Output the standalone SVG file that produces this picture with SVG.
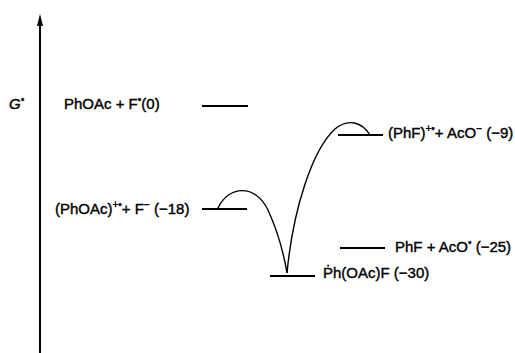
<svg xmlns="http://www.w3.org/2000/svg" width="515" height="353" viewBox="0 0 515 353">
<style>
text{font-family:"Liberation Sans",Arial,sans-serif;font-size:15px;fill:#000;stroke:#000;stroke-width:0.4;}
.sup{font-size:10px;}
.lvl{stroke:#000;stroke-width:2;fill:none;}
.curve{stroke:#000;stroke-width:1.4;fill:none;}
</style>
<g id="axis">
<line x1="40" y1="353" x2="40" y2="18" stroke="#000" stroke-width="2"/>
<path d="M40,14 L43,26 L37,26 Z" fill="#000"/>
<text x="9" y="109" font-style="italic">G<tspan class="sup" dy="-6">•</tspan></text>
</g>
<g id="n-phoac">
<line class="lvl" x1="202" y1="106" x2="248" y2="106"/>
<text x="64" y="109">PhOAc + F<tspan class="sup" dy="-6">•</tspan><tspan dy="6">(0)</tspan></text>
</g>
<g id="n-phoac-rad">
<line class="lvl" x1="202" y1="209" x2="247" y2="209"/>
<text x="55" y="214">(PhOAc)<tspan class="sup" dy="-6">+•</tspan><tspan dy="6">+ F</tspan><tspan class="sup" dy="-6">−</tspan><tspan dy="6"> (−18)</tspan></text>
</g>
<g id="n-phf-rad">
<line class="lvl" x1="338" y1="135" x2="383" y2="135"/>
<text x="388" y="138">(PhF)<tspan class="sup" dy="-6">+•</tspan><tspan dy="6">+ AcO</tspan><tspan class="sup" dy="-6">−</tspan><tspan dy="6"> (−9)</tspan></text>
</g>
<g id="n-phf">
<line class="lvl" x1="340" y1="248" x2="385" y2="248"/>
<text x="395" y="252">PhF + AcO<tspan class="sup" dy="-6">•</tspan><tspan dy="6"> (−25)</tspan></text>
</g>
<g id="n-adduct">
<line class="lvl" x1="270" y1="276" x2="315" y2="276" stroke-width="2.5"/>
<text x="323" y="278">Ṗh(OAc)F (−30)</text>
</g>
<g id="connectors">
<path class="curve" d="M218,208 C228,186 255,183 268,210 C278,232 284,255 287,273"/>
<path class="curve" d="M287,273 C293,210 312,150 335,129 C348,118 362,122 370,135"/>
</g>
</svg>
